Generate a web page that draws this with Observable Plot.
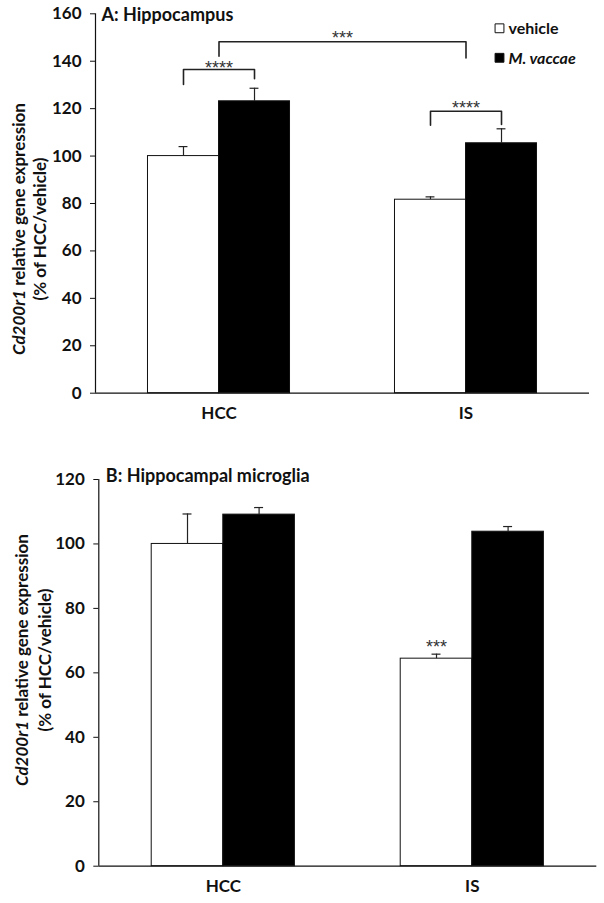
<!DOCTYPE html>
<html><head><meta charset="utf-8">
<script src="https://cdn.jsdelivr.net/npm/d3@7"></script>
<script src="https://cdn.jsdelivr.net/npm/@observablehq/plot@0.6"></script>
<style>
body{margin:0;background:#fff;}
#chart svg{display:block;}
</style></head><body><div id="chart"></div>
<script>
// ---- data ----
const groups = ["HCC", "IS"];
const treatments = ["vehicle", "M. vaccae"];
// order: HCC vehicle, HCC M. vaccae, IS vehicle, IS M. vaccae
const aMeans = [100, 123.1, 81.6, 105.4];
const aErrors = [4.0, 5.5, 1.2, 6.1];
const bMeans = [100, 109.1, 64.4, 103.8];
const bErrors = [9.3, 2.2, 1.4, 1.6];
const aTicks = [0, 20, 40, 60, 80, 100, 120, 140, 160];
const bTicks = [0, 20, 40, 60, 80, 100, 120];
const aTitle = "A: Hippocampus";
const bTitle = "B: Hippocampal microglia";
const yLabelItalic = "Cd200r1";
const yLabelRest = " relative gene expression";
const yLabel2 = "(% of HCC/vehicle)";
// significance brackets: ends are [group, treatment] (treatment null = group centre)
const aBrackets = [
  {from: ["HCC", "vehicle"], to: ["HCC", "M. vaccae"], top: 136.5, left: 130.2, right: 132.6, label: "****", labelY: 139.2},
  {from: ["HCC", null], to: ["IS", null], top: 148.2, left: 142.1, right: 141.4, label: "***", labelY: 152},
  {from: ["IS", "vehicle"], to: ["IS", "M. vaccae"], top: 118.9, left: 113.0, right: 113.3, label: "****", labelY: 122.4}
];
const bStars = [{group: "IS", treatment: "vehicle", y: 69.5, label: "***"}];

// ---- layout helpers ----
const BAR_W = 0.2875; // bar width in group units
const CAP = 0.018;
function cx(g, t) {
  const gi = groups.indexOf(g);
  if (t == null) return gi;
  return t === "vehicle" ? gi - BAR_W / 2 : gi + BAR_W / 2;
}
function rowsOf(means, errors) {
  const rows = [];
  groups.forEach((g, gi) => treatments.forEach((t, ti) => {
    const k = gi * 2 + ti;
    rows.push({group: g, treatment: t, mean: means[k], err: errors[k],
      x1: ti === 0 ? gi - BAR_W : gi, x2: ti === 0 ? gi : gi + BAR_W, cx: cx(g, t)});
  }));
  return rows;
}
const FONT = "Lato, 'Open Sans', sans-serif";
const starStyle = {fontSize: 18, fill: "#333", letterSpacing: 1, fontFamily: "Liberation Sans", dy: 5};

function panel(o) {
  const rows = rowsOf(o.means, o.errors);
  const marks = [
    Plot.rect(rows, {x1: "x1", x2: "x2", y1: 0, y2: "mean", fill: "treatment", stroke: "#111", strokeWidth: 1}),
    Plot.ruleX(rows, {x: "cx", y1: "mean", y2: d => d.mean + d.err, stroke: "#222", strokeWidth: 1.2}),
    Plot.ruleY(rows, {x1: d => d.cx - CAP, x2: d => d.cx + CAP, y: d => d.mean + d.err, stroke: "#222", strokeWidth: 1.2}),
    Plot.ruleY([0], {stroke: "#111", strokeWidth: 1.2}),
    Plot.ruleX([-0.5], {y1: 0, y2: o.ticks[o.ticks.length - 1], stroke: "#111", strokeWidth: 1.2}),
    Plot.axisY({ticks: o.ticks, tickSize: 5, tickPadding: 9, fontSize: 17, fontWeight: "bold", label: null, stroke: "#111"}),
    Plot.axisX({ticks: [0, 1], tickFormat: i => groups[i], tickSize: 0, tickPadding: 14, fontSize: 17, fontWeight: "bold", label: null}),
    Plot.text([o.title], {text: d => d, frameAnchor: "top-left", textAnchor: "start", lineAnchor: "middle", dx: o.titleDx, dy: o.titleDy, fontSize: 18, fontWeight: "bold", fill: "#111"})
  ];
  if (o.brackets) {
    const pts = [];
    o.brackets.forEach((b, i) => {
      const xa = cx(...b.from), xb = cx(...b.to);
      pts.push({id: i, x: xa, y: b.left}, {id: i, x: xa, y: b.top}, {id: i, x: xb, y: b.top}, {id: i, x: xb, y: b.right});
    });
    marks.push(Plot.line(pts, {x: "x", y: "y", z: "id", stroke: "#222", strokeWidth: 1.6, curve: "linear"}));
    marks.push(Plot.text(o.brackets, {x: b => (cx(...b.from) + cx(...b.to)) / 2, y: "labelY", text: "label", ...starStyle}));
  }
  if (o.stars) {
    marks.push(Plot.text(o.stars, {x: d => cx(d.group, d.treatment), y: "y", text: "label", ...starStyle}));
  }
  if (o.legend) {
    marks.push(Plot.dot([treatments[0]], {frameAnchor: "top-right", dx: -90, dy: 14.5, symbol: "square", r: 5, fill: d => d, stroke: "#111", strokeWidth: 1}));
    marks.push(Plot.dot([treatments[1]], {frameAnchor: "top-right", dx: -90, dy: 44, symbol: "square", r: 5, fill: d => d, stroke: "#111", strokeWidth: 1}));
    marks.push(Plot.text([treatments[0]], {text: d => d, frameAnchor: "top-right", textAnchor: "start", lineAnchor: "middle", dx: -81, dy: 15, fontSize: 16, fontWeight: "bold", fill: "#111"}));
    marks.push(Plot.text([treatments[1]], {text: d => d, frameAnchor: "top-right", textAnchor: "start", lineAnchor: "middle", dx: -81, dy: 45, fontSize: 16, fontWeight: "bold", fontStyle: "italic", fill: "#111"}));
  }
  const svg = Plot.plot({
    width: 604, height: o.height,
    marginTop: o.mt, marginBottom: o.mb, marginLeft: o.ml, marginRight: o.mr,
    style: {fontFamily: FONT, background: "white", color: "#111"},
    x: {type: "linear", domain: [-0.5, 1.5], axis: null},
    y: {domain: [0, o.ticks[o.ticks.length - 1]], axis: null},
    color: {type: "ordinal", domain: treatments, range: ["white", "black"]},
    marks
  });
  // rotated two-line y-axis label (with italic gene name)
  const s = d3.select(svg);
  const g = s.append("g").attr("font-family", FONT).attr("font-size", 17).attr("font-weight", "bold").attr("fill", "#111").attr("text-anchor", "middle");
  const t1 = g.append("text").attr("transform", `translate(${o.lab1X},${o.labY}) rotate(-90)`).attr("dy", "0.35em");
  t1.append("tspan").attr("font-style", "italic").text(yLabelItalic);
  t1.append("tspan").text(yLabelRest);
  g.append("text").attr("transform", `translate(${o.lab2X},${o.labY}) rotate(-90)`).attr("dy", "0.35em").text(yLabel2);
  return svg;
}

const chart = document.getElementById("chart");
chart.append(panel({
  means: aMeans, errors: aErrors, ticks: aTicks, title: aTitle, brackets: aBrackets, legend: true,
  height: 430, mt: 13.3, mb: 37.3, ml: 95, mr: 15,
  titleDx: 6, titleDy: 1, lab1X: 19, lab2X: 40, labY: 229
}));
chart.append(panel({
  means: bMeans, errors: bErrors, ticks: bTicks, title: bTitle, stars: bStars, legend: false,
  height: 473, mt: 49, mb: 37.3, ml: 98.3, mr: 7.7,
  titleDx: 7, titleDy: -3.5, lab1X: 22, lab2X: 45, labY: 230
}));
</script></body></html>
